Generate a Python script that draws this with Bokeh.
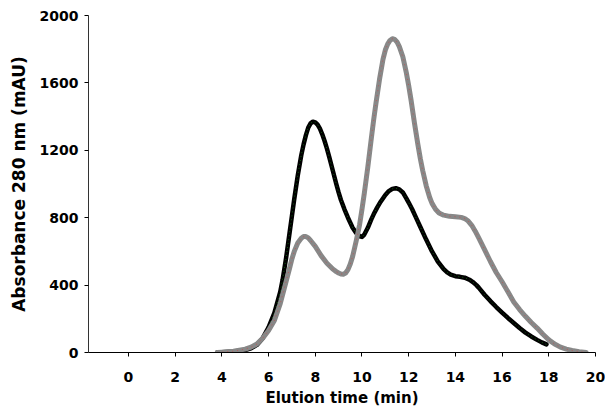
from bokeh.plotting import figure
from bokeh.models import Range1d, FixedTicker
from bokeh.embed import file_html
from bokeh.resources import INLINE

# Series 1 (black)
time_a = [3.8, 4.0, 4.5, 5.0, 5.25, 5.5, 5.75, 6.0, 6.25, 6.5, 6.6, 6.75, 6.9, 7.0, 7.1,
          7.25, 7.4, 7.5, 7.6, 7.7, 7.8, 7.9, 8.0, 8.1, 8.2, 8.3, 8.4, 8.5, 8.6, 8.75,
          8.9, 9.0, 9.1, 9.25, 9.4, 9.5, 9.6, 9.75, 9.9, 10.0, 10.1, 10.25, 10.4, 10.5,
          10.65, 10.8, 11.0, 11.15, 11.3, 11.45, 11.6, 11.75, 11.9, 12.0, 12.15, 12.3,
          12.5, 12.75, 13.0, 13.25, 13.5, 13.65, 13.8, 14.0, 14.2, 14.4, 14.6, 14.75,
          14.9, 15.0, 15.25, 15.5, 15.75, 16.0, 16.25, 16.5, 16.75, 17.0, 17.25, 17.5,
          17.7, 17.9]
abs_a = [0, 2, 6, 15, 25, 45, 85, 150, 235, 360, 430, 560, 710, 810, 910,
         1050, 1170, 1235, 1290, 1335, 1360, 1370, 1366, 1352, 1328, 1295, 1255, 1210, 1160, 1080,
         1000, 950, 905, 850, 800, 770, 740, 710, 690, 686, 700, 740, 790, 820,
         860, 895, 935, 958, 971, 975, 968, 950, 915, 890, 850, 805,
         745, 670, 600, 540, 495, 475, 462, 453, 449, 444, 432, 418,
         400, 385, 343, 305, 270, 237, 205, 175, 145, 118, 95, 75,
         60, 48]

# Series 2 (grey)
time_b = [3.8, 4.0, 4.5, 5.0, 5.25, 5.5, 5.75, 6.0, 6.25, 6.5, 6.75, 6.9, 7.0, 7.1, 7.25,
          7.4, 7.5, 7.6, 7.7, 7.8, 8.0, 8.25, 8.5, 8.75, 8.9, 9.0, 9.1, 9.2, 9.3, 9.4,
          9.5, 9.6, 9.75, 9.9, 10.0, 10.1, 10.25, 10.4, 10.5, 10.6, 10.75, 10.9, 11.0,
          11.1, 11.2, 11.3, 11.4, 11.5, 11.6, 11.75, 11.9, 12.0, 12.1, 12.25, 12.4, 12.5,
          12.6, 12.75, 12.9, 13.0, 13.15, 13.3, 13.5, 13.75, 14.0, 14.25, 14.4, 14.55,
          14.7, 14.85, 15.0, 15.25, 15.5, 15.75, 16.0, 16.25, 16.5, 16.75, 17.0, 17.25,
          17.5, 17.75, 18.0, 18.25, 18.5, 18.75, 19.0, 19.3, 19.6]
abs_b = [0, 2, 8, 20, 32, 50, 85, 130, 190, 290, 420, 500, 555, 600, 650,
         678, 688, 688, 680, 665, 630, 575, 530, 495, 480, 472, 466, 465, 472, 492,
         525, 570, 660, 760, 850, 945, 1100, 1270, 1380, 1480, 1620, 1740, 1795,
         1830, 1852, 1862, 1858, 1843, 1815, 1755, 1660, 1585, 1500, 1360, 1230, 1150,
         1080, 990, 920, 885, 850, 828, 815, 808, 806, 802, 795, 780,
         755, 720, 680, 610, 540, 475, 420, 360, 300, 255, 215, 178,
         145, 108, 75, 50, 32, 20, 12, 5, 0]

x_ticks = [0, 2, 4, 6, 8, 10, 12, 14, 16, 18, 20]
y_ticks = [0, 400, 800, 1200, 1600, 2000]

FONT = "DejaVu Sans"

p = figure(width=605, height=410, output_backend="svg", toolbar_location=None,
           x_range=Range1d(-1.71, 20), y_range=Range1d(0, 2000),
           min_border_left=88, min_border_right=10, min_border_top=15, min_border_bottom=58)
p.outline_line_color = None
p.grid.visible = False
p.background_fill_color = "white"

p.line(time_a, abs_a, line_color="black", line_width=4.5, line_join="round", line_cap="round")
p.line(time_a, abs_a, line_color="#1a9a1a", line_width=1, line_dash="1 3", line_alpha=0.6)
p.line(time_b, abs_b, line_color="#888888", line_width=5, line_join="round", line_cap="round")
p.line(time_b, abs_b, line_color="#e03030", line_width=1, line_dash="1 4", line_alpha=0.5)

for ax in (p.xaxis, p.yaxis):
    ax.minor_tick_line_color = None
    ax.major_tick_in = 0
    ax.major_tick_out = 4
    ax.axis_line_color = "black"
    ax.major_tick_line_color = "black"
    ax.major_label_text_font = FONT
    ax.major_label_text_font_style = "bold"
    ax.major_label_text_font_size = "14px"
    ax.major_label_text_color = "black"
    ax.axis_label_text_font = FONT
    ax.axis_label_text_font_style = "bold"
    ax.axis_label_text_color = "black"

p.xaxis.axis_label_text_font_size = "15px"
p.yaxis.axis_label_text_font_size = "17px"
p.xaxis.ticker = FixedTicker(ticks=x_ticks)
p.yaxis.ticker = FixedTicker(ticks=y_ticks)
p.xaxis.axis_label = "Elution time (min)"
p.yaxis.axis_label = "Absorbance 280 nm (mAU)"
p.xaxis.major_label_standoff = 15
p.xaxis.axis_label_standoff = 4
p.yaxis.major_label_standoff = 6
p.yaxis.axis_label_standoff = 8
p.yaxis.axis_line_color = "#333333"

open("out.html", "w").write(file_html(p, INLINE))
